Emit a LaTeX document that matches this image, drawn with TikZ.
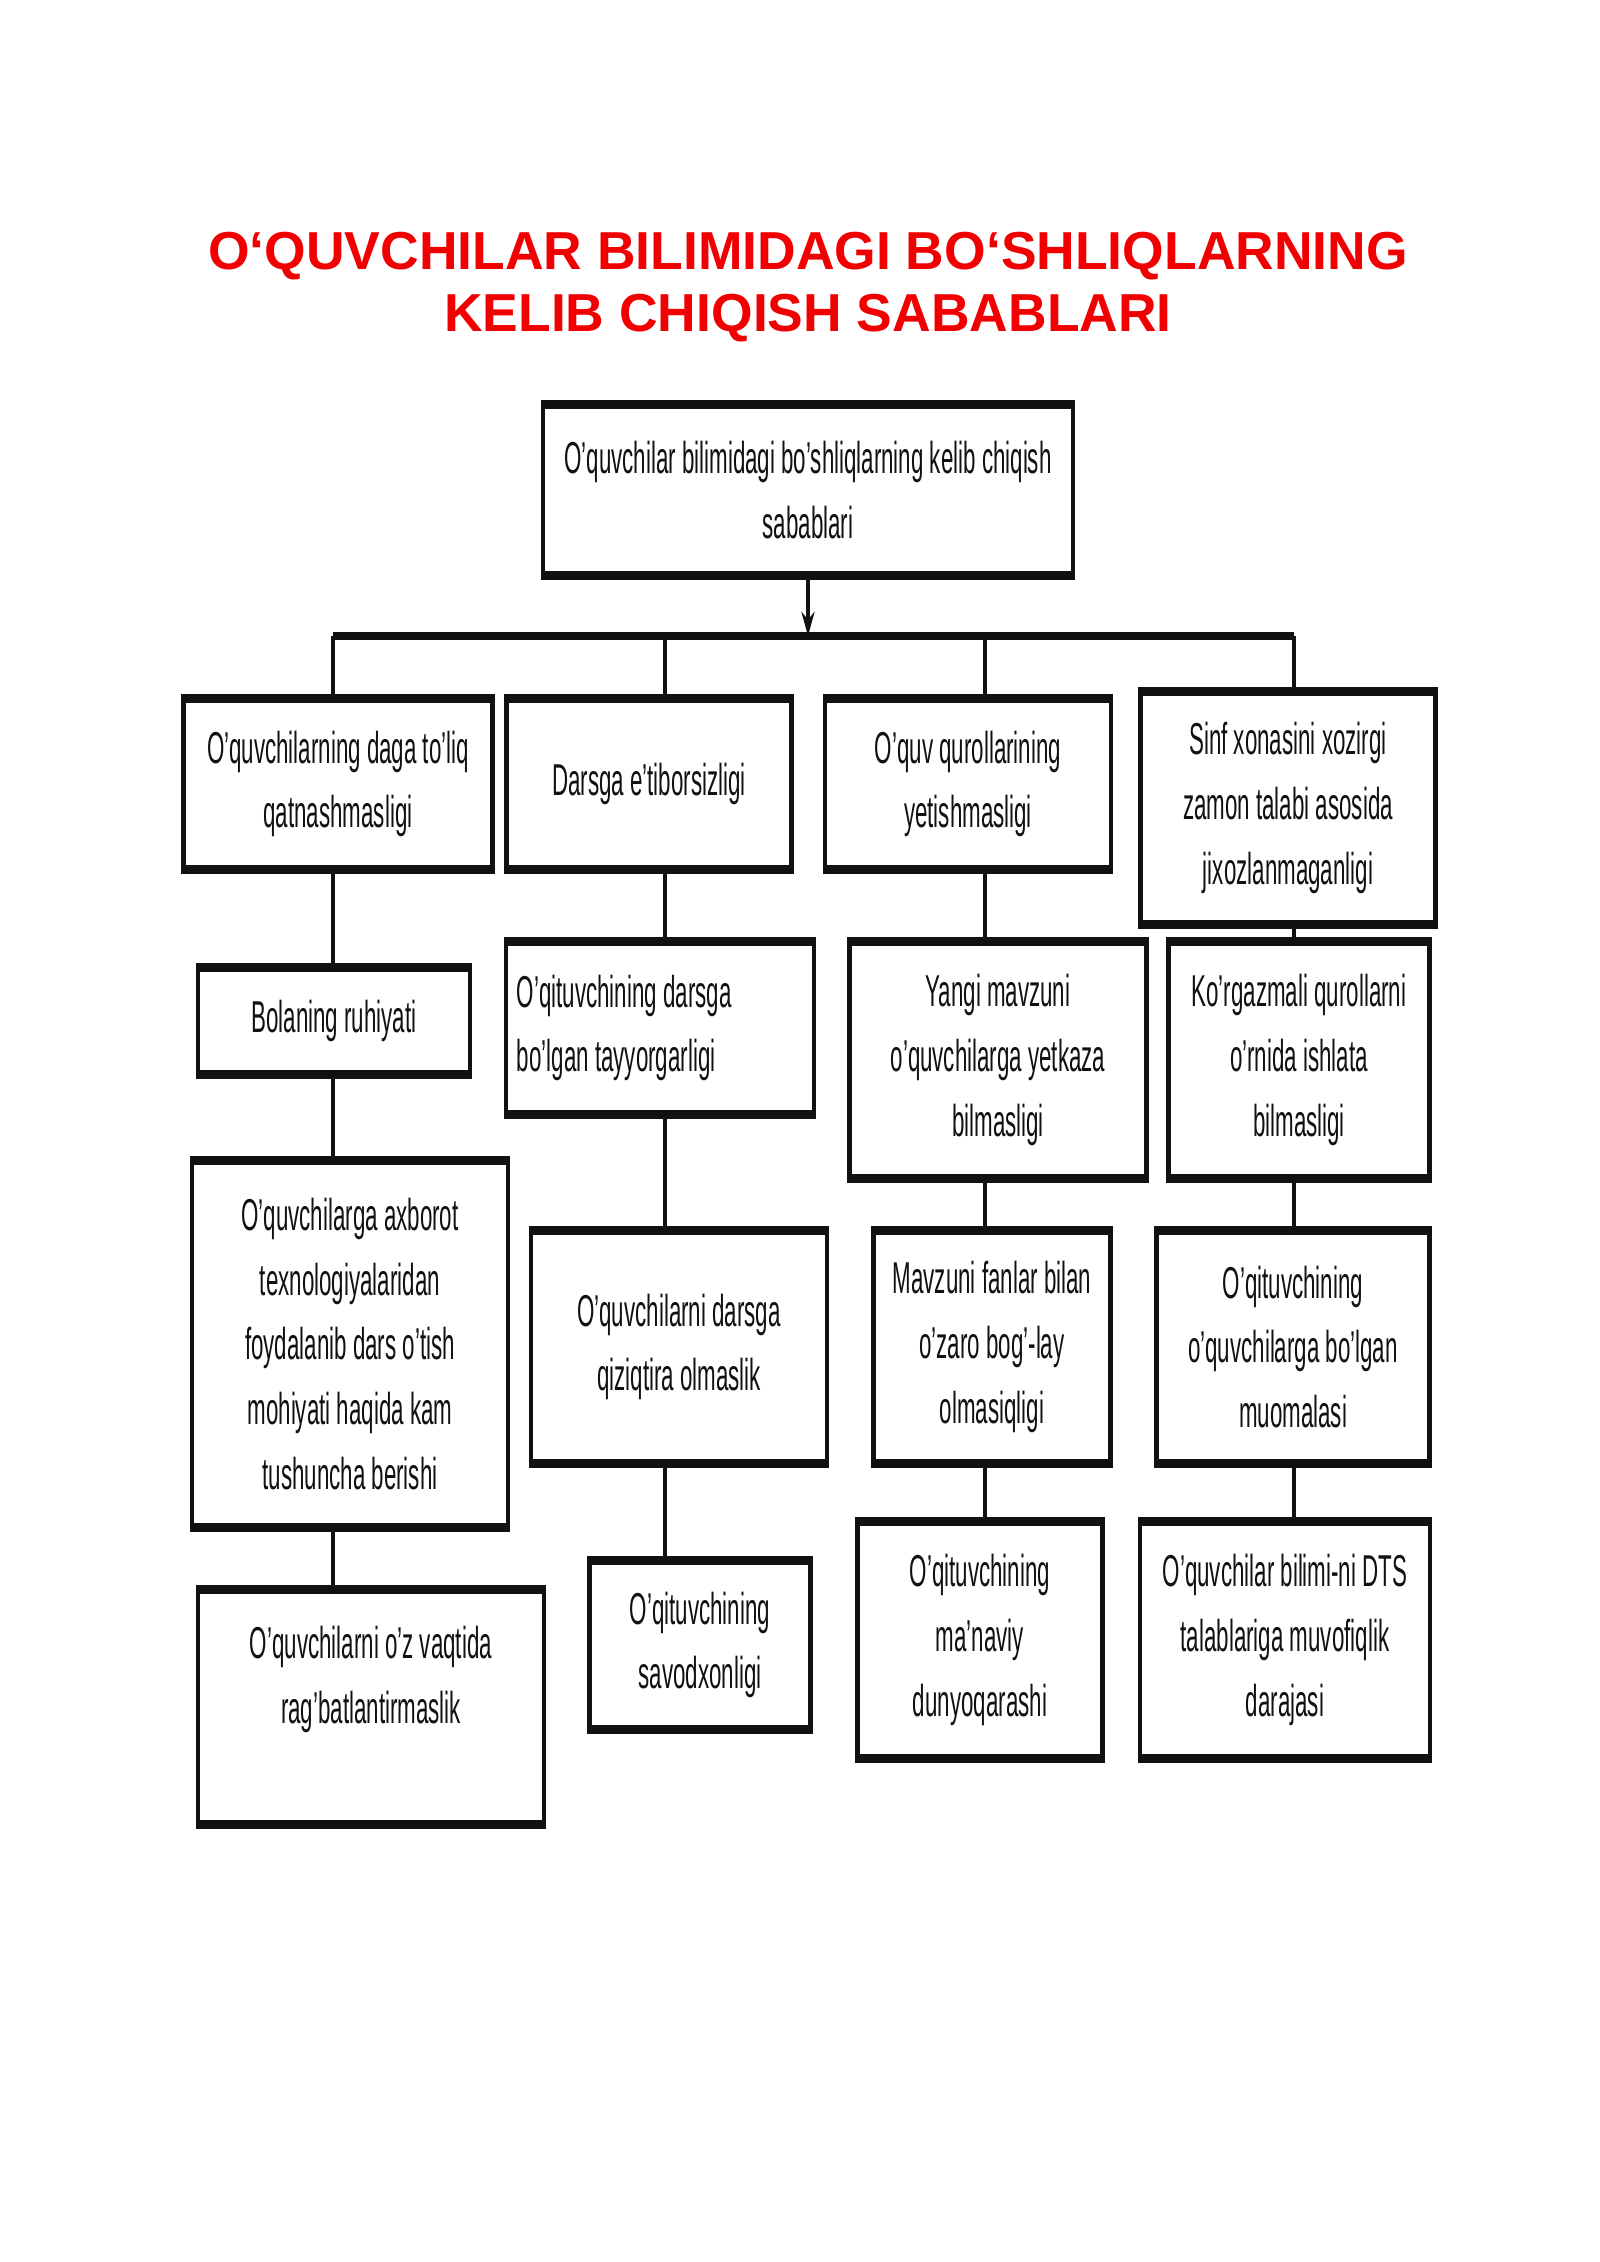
\documentclass[tikz,border=0pt]{standalone}
\usepackage{fontspec}
\usepackage{tikz}
\usetikzlibrary{arrows.meta}
\setmainfont{Liberation Sans}
\newfontfamily\narrowfont{Liberation Sans}[FakeStretch=0.5]
\definecolor{ink}{HTML}{111111}
\definecolor{headred}{HTML}{F00000}
\newcommand\boxtext{\narrowfont\fontsize{12.7pt}{18.4pt}\selectfont}
\newcommand\headtext{\bfseries\fontsize{15.2pt}{17.6pt}\selectfont}

\begin{document}
\begin{tikzpicture}[x=0.01cm,y=-0.01cm,
  causebox/.style={draw=ink,line width=1.2pt,fill=white,inner sep=0pt,
    align=center,font=\boxtext,text=ink,
    append after command={
      (\tikzlastnode.north west) edge[ink,line width=2.6pt] (\tikzlastnode.north east)
      (\tikzlastnode.south west) edge[ink,line width=2.6pt] (\tikzlastnode.south east)}},
  wire/.style={ink,line width=1.2pt},
  busline/.style={ink,line width=2.4pt}]
  \useasboundingbox (0,0) rectangle (1600,2262);
  % title
  \node[font=\headtext,text=headred,align=center] (title) at (808,287)
      {O‘QUVCHILAR BILIMIDAGI BO‘SHLIQLARNING\\KELIB CHIQISH SABABLARI};
  % root
  \node[causebox,minimum width=5.29cm,minimum height=1.66cm] (top) at (808,490)
      {O’quvchilar bilimidagi bo’shliqlarning kelib chiqish\\sabablari};
  % bus
  \coordinate (busa) at (333,636);
  \coordinate (busb) at (665,636);
  \coordinate (busc) at (985,636);
  \coordinate (busd) at (1294,636);
  % first row
  \node[causebox,minimum width=3.09cm,minimum height=1.66cm] (a1) at (338,784)
      {O’quvchilarning daga to’liq\\qatnashmasligi};
  \node[causebox,minimum width=2.85cm,minimum height=1.66cm] (b1) at (649,784)
      {Darsga e’tiborsizligi};
  \node[causebox,minimum width=2.86cm,minimum height=1.66cm] (c1) at (968,784)
      {O’quv qurollarining\\yetishmasligi};
  \node[causebox,minimum width=2.95cm,minimum height=2.28cm] (d1) at (1288,808)
      {Sinf xonasini xozirgi\\zamon talabi asosida\\jixozlanmaganligi};
  % second row
  \node[causebox,minimum width=3.08cm,minimum height=1.68cm,align=flush left,
        text width=2.86cm] (b2) at (660,1028)
      {O’qituvchining darsga\\bo’lgan tayyorgarligi};
  \node[causebox,minimum width=2.72cm,minimum height=1.03cm] (a2) at (334,1021)
      {Bolaning ruhiyati};
  \node[causebox,minimum width=2.97cm,minimum height=2.33cm] (c2) at (998,1060)
      {Yangi mavzuni\\o’quvchilarga yetkaza\\bilmasligi};
  \node[causebox,minimum width=2.61cm,minimum height=2.33cm] (d2) at (1299,1060)
      {Ko’rgazmali qurollarni\\o’rnida ishlata\\bilmasligi};
  % third row
  \node[causebox,minimum width=3.16cm,minimum height=3.63cm] (a3) at (350,1344)
      {O’quvchilarga axborot\\texnologiyalaridan\\foydalanib dars o’tish\\mohiyati haqida kam\\tushuncha berishi};
  \node[causebox,minimum width=2.96cm,minimum height=2.29cm] (b3) at (679,1347)
      {O’quvchilarni darsga\\qiziqtira olmaslik};
  \node[causebox,minimum width=2.37cm,minimum height=2.29cm] (c3) at (992,1347)
      {Mavzuni fanlar bilan\\o’zaro bog’-lay\\olmasiqligi};
  \node[causebox,minimum width=2.73cm,minimum height=2.29cm] (d3) at (1293,1347)
      {O’qituvchining\\o’quvchilarga bo’lgan\\muomalasi};
  % fourth row
  \node[causebox,minimum width=3.46cm,minimum height=2.31cm] (a4) at (371,1707)
      {O’quvchilarni o’z vaqtida\\rag’batlantirmaslik\\\mbox{}};
  \node[causebox,minimum width=2.21cm,minimum height=1.65cm] (b4) at (700,1645)
      {O’qituvchining\\savodxonligi};
  \node[causebox,minimum width=2.45cm,minimum height=2.33cm] (c4) at (980,1640)
      {O’qituvchining\\ma’naviy\\dunyoqarashi};
  \node[causebox,minimum width=2.90cm,minimum height=2.33cm] (d4) at (1285,1640)
      {O’quvchilar bilimi-ni DTS\\talablariga muvofiqlik\\darajasi};
  % connectors
  \draw[wire,-{Stealth[length=2.4mm,width=1.3mm]}] (top.south) -- (top.south |- busa);
  \draw[busline] (busa) -- (busd);
  \foreach \c in {a,b,c,d}{
    \draw[wire] (bus\c) -- (\c1.north -| bus\c);
    \draw[wire] (\c1.south -| bus\c) -- (\c2.north -| bus\c);
    \draw[wire] (\c2.south -| bus\c) -- (\c3.north -| bus\c);
    \draw[wire] (\c3.south -| bus\c) -- (\c4.north -| bus\c);}
\end{tikzpicture}
\end{document}
